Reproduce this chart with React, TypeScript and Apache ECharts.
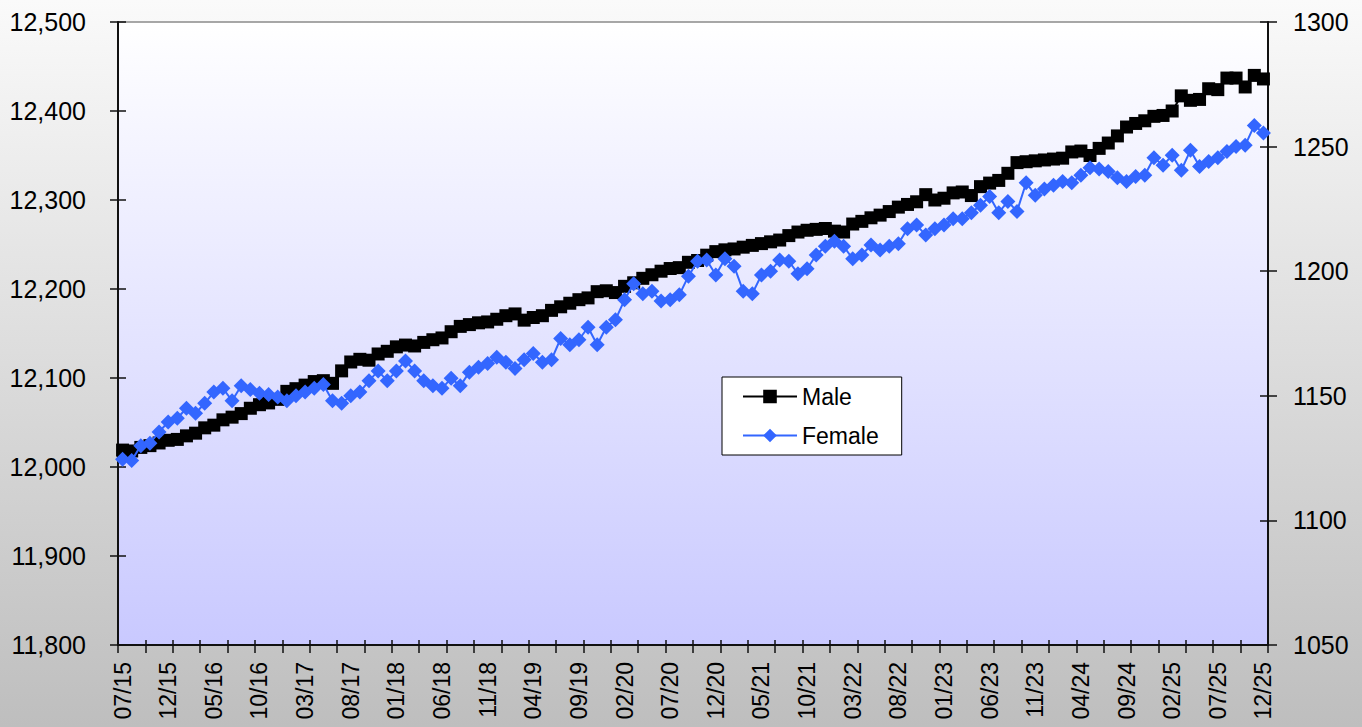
import React, { useEffect, useRef } from "react";
import * as echarts from "echarts";

// ---- Categories: monthly, 07/15 .. 12/25 ----
const START_YEAR = 2015;
const START_MONTH = 7;
const MONTH_COUNT = 126;
const months: string[] = [];
for (let k = 0; k < MONTH_COUNT; k++) {
  const idx = START_MONTH - 1 + k;
  const m = (idx % 12) + 1;
  const y = START_YEAR + Math.floor(idx / 12);
  months.push(String(m).padStart(2, "0") + "/" + String(y % 100).padStart(2, "0"));
}

// ---- Series values ----
const maleValues = [
  12019, 12018, 12022, 12024, 12027, 12030, 12031, 12035, 12038, 12044,
  12047, 12053, 12056, 12060, 12066, 12070, 12072, 12076, 12085, 12088,
  12092, 12096, 12097, 12094, 12108, 12118, 12121, 12120, 12127, 12130,
  12135, 12137, 12136, 12140, 12143, 12145, 12152, 12158, 12160, 12162,
  12163, 12166, 12170, 12172, 12165, 12168, 12170, 12176, 12180, 12184,
  12188, 12190, 12197, 12198, 12196, 12203, 12207, 12212, 12216, 12220,
  12223, 12224, 12230, 12232, 12238, 12242, 12244, 12245, 12247, 12249,
  12251, 12253, 12255, 12260, 12264, 12266, 12267, 12268, 12265, 12264,
  12273, 12276, 12280, 12283, 12287, 12292, 12295, 12298, 12306, 12300,
  12302, 12308, 12309, 12305, 12315, 12319, 12322, 12330, 12342, 12343,
  12344, 12345, 12346, 12347, 12354, 12355, 12350, 12358, 12364, 12372,
  12382, 12386, 12389, 12394, 12395, 12400, 12417, 12412, 12413, 12425,
  12424, 12437, 12437, 12427, 12440, 12436,
];

const femaleValues = [
  1124.5, 1124, 1130, 1131, 1135.5, 1139.5, 1141, 1145, 1143, 1147,
  1151.5, 1153, 1148, 1154, 1152.5, 1151, 1150.5, 1149.5, 1148, 1150,
  1151.5, 1153, 1154.5, 1148, 1147, 1150, 1151.5, 1156, 1160, 1156,
  1160, 1164, 1160, 1156, 1154, 1153, 1157, 1154, 1159.5, 1161.5,
  1163, 1165.5, 1163.5, 1161, 1164.5, 1167, 1163.5, 1164.5, 1173, 1170.5,
  1172.5, 1177.5, 1170.5, 1177.5, 1180.5, 1188.5, 1195, 1191, 1192, 1188,
  1188.5, 1190.5, 1198, 1204, 1204.5, 1198.5, 1205, 1202, 1192, 1191,
  1198.5, 1200, 1204.5, 1204, 1199, 1201, 1206.5, 1210, 1212, 1210,
  1205, 1206.5, 1210.5, 1208.5, 1210, 1211, 1217, 1218.5, 1214.5, 1217,
  1218.5, 1221, 1221, 1223.5, 1226.5, 1230, 1223.5, 1228, 1224, 1235.5,
  1230.5, 1233, 1234.5, 1236, 1235.5, 1238.5, 1241.5, 1241, 1240, 1237.5,
  1236, 1238, 1238.5, 1245.5, 1242.5, 1246.5, 1240.5, 1248.5, 1242, 1244,
  1245.5, 1248, 1250, 1250.5, 1258.5, 1255.5,
];

// ---- Axis scales ----
const leftAxisRange = [11800, 12500];
const leftAxisStep = 100;
const rightAxisRange = [1050, 1300];
const rightAxisStep = 50;
const seriesNames = ["Male", "Female"];

const FONT = "'Liberation Sans', Arial, sans-serif";
const AXIS_COLOR = "#111";

export default function App() {
  const ref = useRef<HTMLDivElement>(null);

  useEffect(() => {
    if (!ref.current) return;
    const chart = echarts.init(ref.current, null, { renderer: "svg" });

    const tickLine = { color: AXIS_COLOR, width: 1.5 };

    const option: any = {
      animation: false,
      backgroundColor: "transparent",
      textStyle: { fontFamily: FONT },
      grid: {
        left: 118,
        right: 94,
        top: 22,
        bottom: 82,
        show: true,
        containLabel: false,
        outerBoundsMode: "none",
        borderColor: "#8a8a8a",
        borderWidth: 1.5,
        backgroundColor: {
          type: "linear",
          x: 0,
          y: 0,
          x2: 0,
          y2: 1,
          colorStops: [
            { offset: 0, color: "#ffffff" },
            { offset: 1, color: "#c9c9ff" },
          ],
        },
      },
      legend: {
        orient: "vertical",
        left: 722,
        top: 377,
        data: seriesNames,
        backgroundColor: "#ffffff",
        borderColor: "#000",
        borderWidth: 1,
        borderRadius: 0,
        padding: [8, 23, 8, 20],
        itemGap: 16,
        itemWidth: 54,
        itemHeight: 17,
        textStyle: { fontSize: 23, color: "#000", fontFamily: FONT },
      },
      xAxis: [
        {
          type: "category",
          data: months,
          boundaryGap: true,
          position: "bottom",
          axisLine: { show: true, lineStyle: { color: AXIS_COLOR, width: 2 } },
          axisTick: { show: true, interval: 2, length: 8, inside: false, lineStyle: tickLine },
          axisLabel: {
            interval: 4,
            rotate: 90,
            margin: 17,
            fontSize: 23,
            color: "#000",
            fontFamily: FONT,
          },
          splitLine: { show: false },
        },
        {
          type: "category",
          data: months,
          boundaryGap: true,
          position: "bottom",
          axisLine: { show: false },
          axisTick: { show: true, interval: 2, length: 5, inside: true, lineStyle: tickLine },
          axisLabel: { show: false },
          splitLine: { show: false },
        },
      ],
      yAxis: [
        {
          type: "value",
          position: "left",
          min: leftAxisRange[0],
          max: leftAxisRange[1],
          interval: leftAxisStep,
          axisLine: { show: true, lineStyle: { color: AXIS_COLOR, width: 2 } },
          axisTick: { show: true, length: 8, inside: false, lineStyle: tickLine },
          axisLabel: {
            margin: 32,
            fontSize: 25,
            color: "#000",
            fontFamily: FONT,
            formatter: (v: number) => v.toLocaleString("en-US"),
          },
          splitLine: { show: false },
        },
        {
          type: "value",
          position: "right",
          min: rightAxisRange[0],
          max: rightAxisRange[1],
          interval: rightAxisStep,
          axisLine: { show: true, lineStyle: { color: AXIS_COLOR, width: 2 } },
          axisTick: { show: true, length: 9, inside: false, lineStyle: tickLine },
          axisLabel: {
            margin: 25,
            fontSize: 25,
            color: "#000",
            fontFamily: FONT,
            formatter: (v: number) => String(v),
          },
          splitLine: { show: false },
        },
        {
          type: "value",
          position: "left",
          min: leftAxisRange[0],
          max: leftAxisRange[1],
          interval: leftAxisStep,
          axisLine: { show: false },
          axisTick: { show: true, length: 8, inside: true, lineStyle: tickLine },
          axisLabel: { show: false },
          splitLine: { show: false },
        },
        {
          type: "value",
          position: "right",
          min: rightAxisRange[0],
          max: rightAxisRange[1],
          interval: rightAxisStep,
          axisLine: { show: false },
          axisTick: { show: true, length: 8, inside: true, lineStyle: tickLine },
          axisLabel: { show: false },
          splitLine: { show: false },
        },
      ],
      series: [
        {
          name: seriesNames[0],
          type: "line",
          xAxisIndex: 0,
          yAxisIndex: 0,
          data: maleValues,
          symbol: "rect",
          symbolSize: 13,
          showAllSymbol: true,
          lineStyle: { color: "#000", width: 2 },
          itemStyle: { color: "#000" },
          z: 3,
        },
        {
          name: seriesNames[1],
          type: "line",
          xAxisIndex: 0,
          yAxisIndex: 1,
          data: femaleValues,
          symbol: "diamond",
          symbolSize: 15,
          showAllSymbol: true,
          lineStyle: { color: "#3366ff", width: 2 },
          itemStyle: { color: "#3366ff" },
          z: 4,
        },
      ],
    };

    chart.setOption(option);
    return () => chart.dispose();
  }, []);

  return (
    <div
      ref={ref}
      style={{
        position: "fixed",
        left: 0,
        top: 0,
        width: 1362,
        height: 727,
        background: "linear-gradient(to bottom, #fafafa 0%, #bebebe 100%)",
      }}
    />
  );
}
